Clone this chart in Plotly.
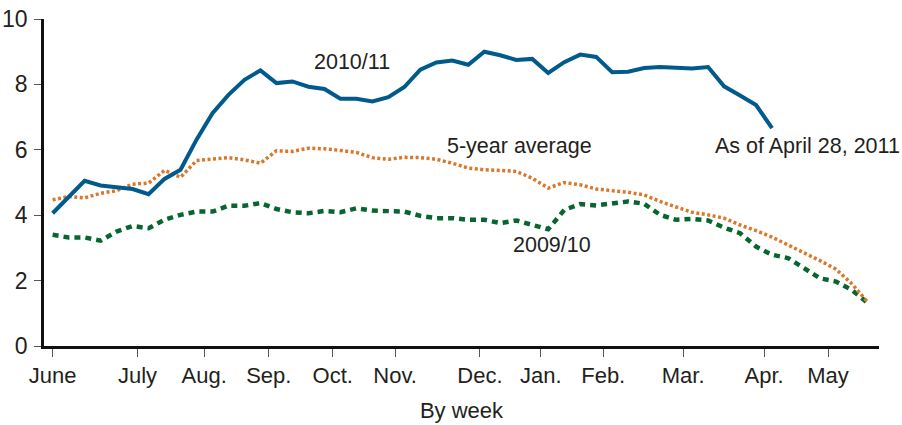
import plotly.graph_objects as go

# weekly data, June -> May
weeks = list(range(52))

season_2010_11 = [4.06, 4.55, 5.05, 4.91, 4.86, 4.80, 4.64, 5.11, 5.39, 6.31,
                  7.12, 7.68, 8.14, 8.43, 8.04, 8.09, 7.93, 7.86, 7.56, 7.56,
                  7.48, 7.61, 7.92, 8.45, 8.67, 8.73, 8.60, 9.00, 8.89, 8.75,
                  8.78, 8.35, 8.68, 8.91, 8.84, 8.37, 8.39, 8.50, 8.53, 8.52,
                  8.49, 8.53, 7.94, 7.66, 7.37, 6.66]

avg_5yr = [4.47, 4.57, 4.53, 4.67, 4.75, 4.95, 4.98, 5.37, 5.16, 5.67,
           5.72, 5.76, 5.69, 5.59, 5.97, 5.95, 6.05, 6.03, 5.98, 5.92,
           5.76, 5.71, 5.77, 5.76, 5.71, 5.59, 5.44, 5.39, 5.37, 5.34,
           5.13, 4.83, 5.00, 4.93, 4.80, 4.75, 4.70, 4.62, 4.42, 4.25,
           4.09, 4.01, 3.91, 3.70, 3.53, 3.33, 3.09, 2.87, 2.61, 2.35,
           1.90, 1.33]

season_2009_10 = [3.40, 3.32, 3.32, 3.22, 3.50, 3.67, 3.60, 3.86, 4.01, 4.11,
                  4.11, 4.29, 4.29, 4.37, 4.19, 4.09, 4.06, 4.13, 4.09, 4.21,
                  4.14, 4.14, 4.11, 3.98, 3.91, 3.91, 3.86, 3.86, 3.76, 3.84,
                  3.70, 3.57, 4.16, 4.34, 4.30, 4.35, 4.42, 4.35, 4.01, 3.86,
                  3.89, 3.84, 3.62, 3.45, 3.04, 2.79, 2.69, 2.38, 2.07, 1.97,
                  1.71, 1.31]

# month ticks (fractional week position)
month_labels = ["June", "July", "Aug.", "Sep.", "Oct.", "Nov.", "Dec.",
                "Jan.", "Feb.", "Mar.", "Apr.", "May"]
month_pos = [0, 5.31, 9.48, 13.52, 17.52, 21.42, 26.73, 30.54, 34.44,
             39.44, 44.5, 48.5]

FONT = "Liberation Sans, Arial, sans-serif"
TXT = "#231f20"

fig = go.Figure()
fig.add_trace(go.Scatter(x=weeks, y=season_2009_10, mode="lines",
                         line=dict(color="#07652f", width=4.5, dash="6px,5px"),
                         hoverinfo="skip", showlegend=False))
fig.add_trace(go.Scatter(x=weeks, y=avg_5yr, mode="lines",
                         line=dict(color="#da772a", width=3.5, dash="3px,2.5px"),
                         hoverinfo="skip", showlegend=False))
fig.add_trace(go.Scatter(x=weeks[:len(season_2010_11)], y=season_2010_11, mode="lines",
                         line=dict(color="#005a8c", width=4),
                         hoverinfo="skip", showlegend=False))

# labels on the lines
notes = [
    ("2010/11", 18.72, 8.69, "center"),
    ("5-year average", 29.23, 6.13, "center"),
    ("2009/10", 31.21, 3.09, "center"),
    ("As of April 28, 2011", 41.3, 6.13, "left"),
]
for txt, x, y, anc in notes:
    fig.add_annotation(x=x, y=y, text=txt, showarrow=False, xanchor=anc,
                       font=dict(size=21.5, color=TXT, family=FONT))

fig.update_layout(
    width=902, height=425,
    margin=dict(l=44, r=23, t=19, b=79),
    plot_bgcolor="white", paper_bgcolor="white",
    font=dict(family=FONT, size=22, color=TXT),
    xaxis=dict(range=[-0.54, 51.69], tickmode="array", tickvals=month_pos,
               ticktext=month_labels, ticks="outside", ticklen=8, tickwidth=1,
               tickcolor="#555", showgrid=False, zeroline=False,
               showline=True, linecolor="#111", linewidth=3, automargin=False,
               tickfont=dict(size=22), ticklabelstandoff=0,
               title=dict(text="By week", font=dict(size=22), standoff=16)),
    yaxis=dict(range=[0, 10], tickvals=[0, 2, 4, 6, 8, 10], ticks="outside",
               ticklen=7, tickwidth=1, tickcolor="#555", showgrid=False,
               zeroline=False, showline=True, linecolor="#111", linewidth=2.5,
               automargin=False, tickfont=dict(size=23), ticklabelstandoff=2),
)

# drop the default page margin so the 902x425 figure fills the window
fig.write_html("out.html", config={"displayModeBar": False},
               post_script="document.body.style.margin='0';document.body.style.overflow='hidden';")
